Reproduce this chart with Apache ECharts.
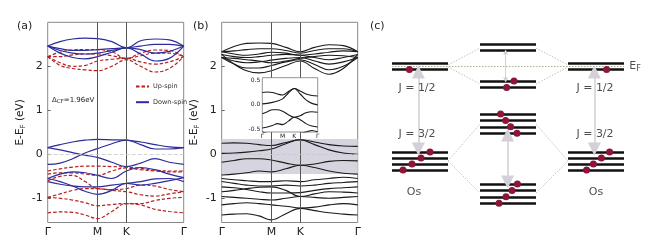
<!DOCTYPE html>
<html><head><meta charset="utf-8">
<script src="https://cdn.jsdelivr.net/npm/echarts@6/dist/echarts.min.js"></script>
<style>html,body{margin:0;padding:0;background:#fff}#c{width:654px;height:252px}</style>
</head><body><div id="c"></div><script>
// ---------- k-path ----------
const kPath = [0, 0.144, 0.289, 0.433, 0.577, 0.744, 0.911, 1.077, 1.244, 1.41, 1.577];
const kTickPos = [0, 0.577, 0.911, 1.577];
const kTickLabels = ['Γ', 'M', 'K', 'Γ'];
const energyTicks = [-1, 0, 1, 2];
const insetTicks = [-0.5, 0, 0.5];
const insetTickLabels = ['-0.5', '0.0', '0.5'];

// ---------- panel (a): spin-polarised bands (eV) ----------
const downSpin = [
  [2.46,2.56,2.62,2.64,2.63,2.56,2.42,2.58,2.62,2.60,2.46],
  [2.46,2.40,2.36,2.36,2.38,2.40,2.42,2.46,2.50,2.50,2.46],
  [2.46,2.30,2.20,2.17,2.22,2.32,2.42,2.28,2.12,2.18,2.46],
  [2.46,2.36,2.30,2.28,2.30,2.36,2.42,2.38,2.30,2.34,2.46],
  [0.15,0.22,0.28,0.32,0.34,0.33,0.32,0.28,0.22,0.17,0.15],
  [0.15,0.10,0.04,-0.02,-0.07,-0.18,-0.28,-0.20,-0.10,-0.18,-0.23],
  [-0.23,-0.20,-0.10,0.03,0.13,0.24,0.32,0.22,0.12,0.12,0.15],
  [-0.55,-0.45,-0.40,-0.42,-0.48,-0.55,-0.38,-0.30,-0.35,-0.45,-0.53],
  [-0.62,-0.68,-0.72,-0.74,-0.74,-0.70,-0.66,-0.62,-0.56,-0.55,-0.62],
  [-0.55,-0.62,-0.72,-0.84,-0.91,-0.82,-0.66,-0.70,-0.66,-0.60,-0.53]
];
const upSpin = [
  [2.22,2.32,2.37,2.38,2.38,2.33,2.18,2.30,2.37,2.36,2.22],
  [2.22,2.22,2.26,2.28,2.28,2.24,2.18,2.24,2.30,2.30,2.22],
  [2.22,2.08,2.00,2.02,2.12,2.16,2.18,2.10,2.05,2.10,2.22],
  [2.22,2.02,1.95,1.92,1.90,2.00,2.15,2.00,1.87,1.95,2.22],
  [-0.38,-0.33,-0.29,-0.27,-0.27,-0.28,-0.29,-0.32,-0.36,-0.38,-0.38],
  [-0.45,-0.42,-0.42,-0.45,-0.48,-0.38,-0.31,-0.35,-0.38,-0.40,-0.40],
  [-0.60,-0.50,-0.48,-0.62,-0.78,-0.80,-0.78,-0.70,-0.72,-0.80,-0.85],
  [-0.98,-0.90,-0.82,-0.78,-0.78,-0.82,-0.85,-0.92,-0.95,-0.90,-0.85],
  [-0.98,-1.00,-1.04,-1.10,-1.17,-1.14,-1.12,-1.12,-1.05,-1.00,-0.98],
  [-1.33,-1.31,-1.32,-1.38,-1.46,-1.30,-1.12,-1.15,-1.25,-1.30,-1.33]
];

// ---------- panel (b): bands with SOC (eV) ----------
const socBands = [
  [2.33,2.45,2.52,2.53,2.52,2.43,2.33,2.43,2.49,2.47,2.33],
  [2.33,2.35,2.38,2.40,2.40,2.36,2.30,2.36,2.40,2.40,2.33],
  [2.33,2.28,2.25,2.28,2.32,2.30,2.25,2.28,2.32,2.35,2.33],
  [2.27,2.22,2.20,2.22,2.25,2.27,2.25,2.20,2.15,2.20,2.27],
  [2.20,2.18,2.15,2.12,2.08,2.12,2.18,2.22,2.25,2.24,2.20],
  [2.20,2.12,2.08,2.10,2.14,2.18,2.20,2.12,2.05,2.10,2.20],
  [2.20,2.05,1.96,1.96,2.02,2.10,2.15,2.04,1.92,2.00,2.20],
  [2.27,2.05,1.90,1.85,1.90,2.02,2.12,1.95,1.82,1.95,2.27],
  [0.25,0.26,0.25,0.22,0.20,0.27,0.33,0.28,0.22,0.19,0.18],
  [0.02,0.03,0.05,0.08,0.12,0.24,0.33,0.22,0.10,0.03,0.00],
  [-0.18,-0.14,-0.10,-0.10,-0.13,-0.20,-0.25,-0.22,-0.16,-0.14,-0.15],
  [-0.47,-0.45,-0.42,-0.38,-0.40,-0.33,-0.25,-0.30,-0.38,-0.43,-0.45],
  [-0.55,-0.58,-0.60,-0.62,-0.62,-0.60,-0.62,-0.58,-0.55,-0.52,-0.55],
  [-0.62,-0.66,-0.70,-0.72,-0.72,-0.70,-0.72,-0.70,-0.66,-0.64,-0.62],
  [-0.74,-0.76,-0.80,-0.85,-0.88,-0.88,-0.87,-0.82,-0.78,-0.76,-0.74],
  [-0.85,-0.82,-0.78,-0.75,-0.74,-0.82,-0.96,-0.90,-0.85,-0.86,-0.88],
  [-0.96,-0.98,-1.00,-1.02,-1.04,-1.00,-0.96,-0.98,-1.00,-0.98,-0.96],
  [-1.15,-1.12,-1.10,-1.12,-1.15,-1.18,-1.22,-1.20,-1.15,-1.12,-1.15],
  [-1.38,-1.36,-1.35,-1.40,-1.49,-1.35,-1.23,-1.28,-1.33,-1.36,-1.38]
];
const shadedWindow = [-0.45, 0.35];

// ---------- panel (c): level scheme (arbitrary energy units) ----------
const blockX = { osLeft: [0.6, 3.4], middle: [5.0, 7.8], osRight: [9.4, 12.2] };
const osJHalf = [7.95, 7.63];
const osJThreeHalf = [3.5, 3.2, 2.9, 2.6];
const midTop = [8.9, 8.57];
const midUpper = [7.05, 6.72];
const midLower = [5.4, 5.08, 4.76, 4.44];
const midBottom = [1.9, 1.58, 1.26, 0.94];
const fermiLevel = 7.79;
const electronsX = [1.47, 2.5, 2.05, 1.6, 1.15, 6.7, 6.33, 6.03, 6.28, 6.53, 6.85, 6.87, 6.6, 6.3, 5.95, 11.33, 11.48, 11.07, 10.67, 10.33];
const electronsE = [7.63, 3.5, 3.2, 2.9, 2.6, 7.05, 6.72, 5.4, 5.08, 4.76, 4.44, 1.9, 1.58, 1.26, 0.94, 7.63, 3.5, 3.2, 2.9, 2.6];
const bigArrows = [[1.92, 7.5, 3.65], [10.72, 7.5, 3.65], [6.38, 4.35, 2.0]];
const smallArrows = [[6.28, 8.5, 7.1]];
const connectorsUpper = [[3.4, 7.85, 5.0, 8.7], [3.4, 7.75, 5.0, 6.9], [7.8, 8.7, 9.4, 7.85], [7.8, 6.9, 9.4, 7.75]];
const connectorsLower = [[3.4, 3.05, 5.0, 4.9], [3.4, 3.05, 5.0, 1.45], [7.8, 4.9, 9.4, 3.05], [7.8, 1.45, 9.4, 3.05]];
const schemeLabels = [
  [1.85, 6.68, 'J = 1/2'], [1.85, 4.4, 'J = 3/2'], [1.7, 1.47, 'Os'],
  [10.75, 6.68, 'J = 1/2'], [10.75, 4.4, 'J = 3/2'], [10.8, 1.47, 'Os']
];

// ---------- build ----------
const FONT = 'DejaVu Sans';
const BLUE = '#2c2c9c', RED = '#b52020', BLACK = '#1a1a1a';
const toXY = b => kPath.map((k, i) => [k, b[i]]);

const bandAxisX = (gi) => ({
  type: 'value', gridIndex: gi, min: 0, max: 1.577,
  axisLine: { show: false }, splitLine: { show: false },
  axisTick: { show: false },
  axisLabel: { customValues: kTickPos, formatter: v => kTickLabels[kTickPos.indexOf(v)] ?? '',
    fontFamily: FONT, fontSize: 11, color: '#222', margin: 4 }
});
const bandAxisY = (gi) => ({
  type: 'value', gridIndex: gi, min: -1.55, max: 3.0,
  axisLine: { show: false }, splitLine: { show: false },
  axisTick: { show: true, inside: true, length: 3, customValues: energyTicks, lineStyle: { color: '#666' } },
  axisLabel: { customValues: energyTicks, fontFamily: FONT, fontSize: 11, color: '#222', margin: 5 },
  name: 'E-E{s|F} (eV)', nameLocation: 'middle', nameGap: 21, nameRotate: 90,
  nameTextStyle: { fontFamily: FONT, fontSize: 10.5, color: '#222', rich: { s: { fontSize: 7, fontFamily: FONT, color: '#222', padding: [5, 0, 0, 0] } } }
});

const series = [];
const refLines = (xi, yi) => ({
  type: 'line', xAxisIndex: xi, yAxisIndex: yi, data: [], silent: true, z: 1,
  markLine: { silent: true, symbol: 'none', label: { show: false }, animation: false,
    data: [
      { xAxis: 0.577, lineStyle: { color: '#555', width: 1, type: 'solid' } },
      { xAxis: 0.911, lineStyle: { color: '#555', width: 1, type: 'solid' } },
      { yAxis: 0, lineStyle: { color: '#c8c8c8', width: 0.8, type: [4, 2] } }
    ] }
});
series.push(refLines(0, 0));
series.push(refLines(1, 1));
series.push({ type: 'line', xAxisIndex: 1, yAxisIndex: 1, data: [], silent: true, z: 0,
  markArea: { silent: true, itemStyle: { color: '#d6d5df' }, data: [[{ yAxis: shadedWindow[1] }, { yAxis: shadedWindow[0] }]] } });

upSpin.forEach(b => series.push({ name: 'Up-spin', type: 'line', xAxisIndex: 0, yAxisIndex: 0, data: toXY(b),
  smooth: 0.4, symbol: 'none', lineStyle: { color: RED, width: 1.2, type: [3.5, 2] }, itemStyle: { color: RED }, z: 3 }));
downSpin.forEach(b => series.push({ name: 'Down-spin', type: 'line', xAxisIndex: 0, yAxisIndex: 0, data: toXY(b),
  smooth: 0.4, symbol: 'none', lineStyle: { color: BLUE, width: 1.2 }, itemStyle: { color: BLUE }, z: 4 }));
socBands.forEach(b => series.push({ type: 'line', xAxisIndex: 1, yAxisIndex: 1, data: toXY(b),
  smooth: 0.4, symbol: 'none', lineStyle: { color: BLACK, width: 1.1 }, z: 3 }));

// inset
series.push({ type: 'line', xAxisIndex: 2, yAxisIndex: 2, data: [], silent: true, z: 11,
  markLine: { silent: true, symbol: 'none', label: { show: false }, animation: false,
    data: [
      { xAxis: 0.577, lineStyle: { color: '#555', width: 0.8, type: 'solid' } },
      { xAxis: 0.911, lineStyle: { color: '#555', width: 0.8, type: 'solid' } },
      { yAxis: 0, lineStyle: { color: '#999', width: 0.8, type: [2, 1] } }
    ] } });
socBands.forEach(b => series.push({ type: 'line', xAxisIndex: 2, yAxisIndex: 2, data: toXY(b),
  smooth: 0.4, symbol: 'none', lineStyle: { color: BLACK, width: 1.1 }, z: 12, clip: true }));

// panel (c)
const levelCoords = [];
const addLevels = (xr, arr) => arr.forEach(e => levelCoords.push({ coords: [[xr[0], e], [xr[1], e]] }));
addLevels(blockX.osLeft, osJHalf); addLevels(blockX.osLeft, osJThreeHalf);
addLevels(blockX.osRight, osJHalf); addLevels(blockX.osRight, osJThreeHalf);
addLevels(blockX.middle, midTop); addLevels(blockX.middle, midUpper);
addLevels(blockX.middle, midLower); addLevels(blockX.middle, midBottom);

const linesBase = { type: 'lines', coordinateSystem: 'cartesian2d', xAxisIndex: 3, yAxisIndex: 3, silent: true };
series.push(Object.assign({}, linesBase, { z: 2,
  lineStyle: { color: '#c4c4c4', width: 1, type: [1.5, 1.5], opacity: 1 },
  data: connectorsUpper.concat(connectorsLower).map(c => ({ coords: [[c[0], c[1]], [c[2], c[3]]] })) }));
series.push(Object.assign({}, linesBase, { z: 2,
  lineStyle: { color: '#aeae94', width: 1, type: [1.5, 1.5], opacity: 1 },
  data: [{ coords: [[blockX.osLeft[0], fermiLevel], [blockX.osRight[1], fermiLevel]] }] }));
series.push(Object.assign({}, linesBase, { z: 3,
  lineStyle: { color: '#111', width: 2.6, opacity: 1 }, data: levelCoords }));
series.push(Object.assign({}, linesBase, { z: 4,
  symbol: ['triangle', 'triangle'], symbolSize: 13,
  lineStyle: { color: '#d4d0d8', width: 1.6, opacity: 1 },
  data: bigArrows.map(a => ({ coords: [[a[0], a[1]], [a[0], a[2]]] })) }));
series.push(Object.assign({}, linesBase, { z: 4,
  symbol: ['triangle', 'triangle'], symbolSize: 5,
  lineStyle: { color: '#d4d0d8', width: 1, opacity: 1 },
  data: smallArrows.map(a => ({ coords: [[a[0], a[1]], [a[0], a[2]]] })) }));
series.push({ type: 'scatter', xAxisIndex: 3, yAxisIndex: 3, silent: true, z: 6, symbolSize: 7,
  itemStyle: { color: '#8c1538', opacity: 1 }, data: electronsX.map((x, i) => [x, electronsE[i]]) });
series.push({ type: 'scatter', xAxisIndex: 3, yAxisIndex: 3, silent: true, z: 7, symbolSize: 0,
  label: { show: true, position: 'inside', formatter: '{b}', fontFamily: FONT, fontSize: 11, color: '#222',
    rich: { s: { fontSize: 8, fontFamily: FONT, color: '#222', padding: [6, 0, 0, 0] } } },
  data: schemeLabels.map(l => ({ name: l[2], value: [l[0], l[1]] }))
    .concat([{ name: 'E{s|F}', value: [12.75, fermiLevel] }]) });

const option = {
  animation: false,
  backgroundColor: '#fff',
  textStyle: { fontFamily: FONT },
  grid: [
    { left: 47.7, top: 22.3, width: 136, height: 200.2, show: true, borderColor: '#888', borderWidth: 1, backgroundColor: 'transparent' },
    { left: 221.7, top: 22.3, width: 136, height: 200.2, show: true, borderColor: '#888', borderWidth: 1, backgroundColor: 'transparent' },
    { left: 262.3, top: 77.7, width: 55.4, height: 54.3, show: true, borderColor: '#777', borderWidth: 0.8, backgroundColor: '#fff', z: 10 },
    { left: 380, top: 22, width: 260, height: 200, show: false }
  ],
  xAxis: [
    bandAxisX(0), bandAxisX(1),
    { type: 'value', gridIndex: 2, min: 0, max: 1.577, z: 12, axisLine: { show: false }, splitLine: { show: false }, axisTick: { show: false },
      axisLabel: { customValues: kTickPos, formatter: v => kTickLabels[kTickPos.indexOf(v)] ?? '', fontFamily: FONT, fontSize: 6, color: '#222', margin: 1 } },
    { type: 'value', gridIndex: 3, min: 0, max: 13, show: false }
  ],
  yAxis: [
    bandAxisY(0), bandAxisY(1),
    { type: 'value', gridIndex: 2, min: -0.55, max: 0.55, z: 12, axisLine: { show: false }, splitLine: { show: false }, axisTick: { show: false },
      axisLabel: { customValues: insetTicks, formatter: v => insetTickLabels[insetTicks.indexOf(v)] ?? '', fontFamily: FONT, fontSize: 6, color: '#222', margin: 2 } },
    { type: 'value', gridIndex: 3, min: 0, max: 10, show: false }
  ],
  legend: {
    data: ['Up-spin', 'Down-spin'], orient: 'vertical', left: 130, top: 78, itemWidth: 13, itemHeight: 6, itemGap: 8.7,
    itemStyle: { opacity: 0 },
    textStyle: { fontFamily: FONT, fontSize: 6.5, color: '#333', padding: [0, 0, 0, -1] }, selectedMode: false
  },
  graphic: [
    { type: 'text', left: 17, top: 21, style: { text: '(a)', font: '11px "DejaVu Sans"', fill: '#222' } },
    { type: 'text', left: 193, top: 21, style: { text: '(b)', font: '11px "DejaVu Sans"', fill: '#222' } },
    { type: 'text', left: 370, top: 21, style: { text: '(c)', font: '11px "DejaVu Sans"', fill: '#222' } },
    { type: 'text', left: 52, top: 97, style: { text: '{d|Δ}{s|CF}{d|=1.96eV}', font: '7px "DejaVu Sans"', fill: '#222',
      rich: { d: { fontSize: 7, fontFamily: FONT, fill: '#222' }, s: { fontSize: 5.5, fontFamily: FONT, fill: '#222', padding: [3, 0, 0, 0] } } } }
  ],
  series
};
const chart = echarts.init(document.getElementById('c'), null, { renderer: 'canvas' });
chart.setOption(option);
</script></body></html>
